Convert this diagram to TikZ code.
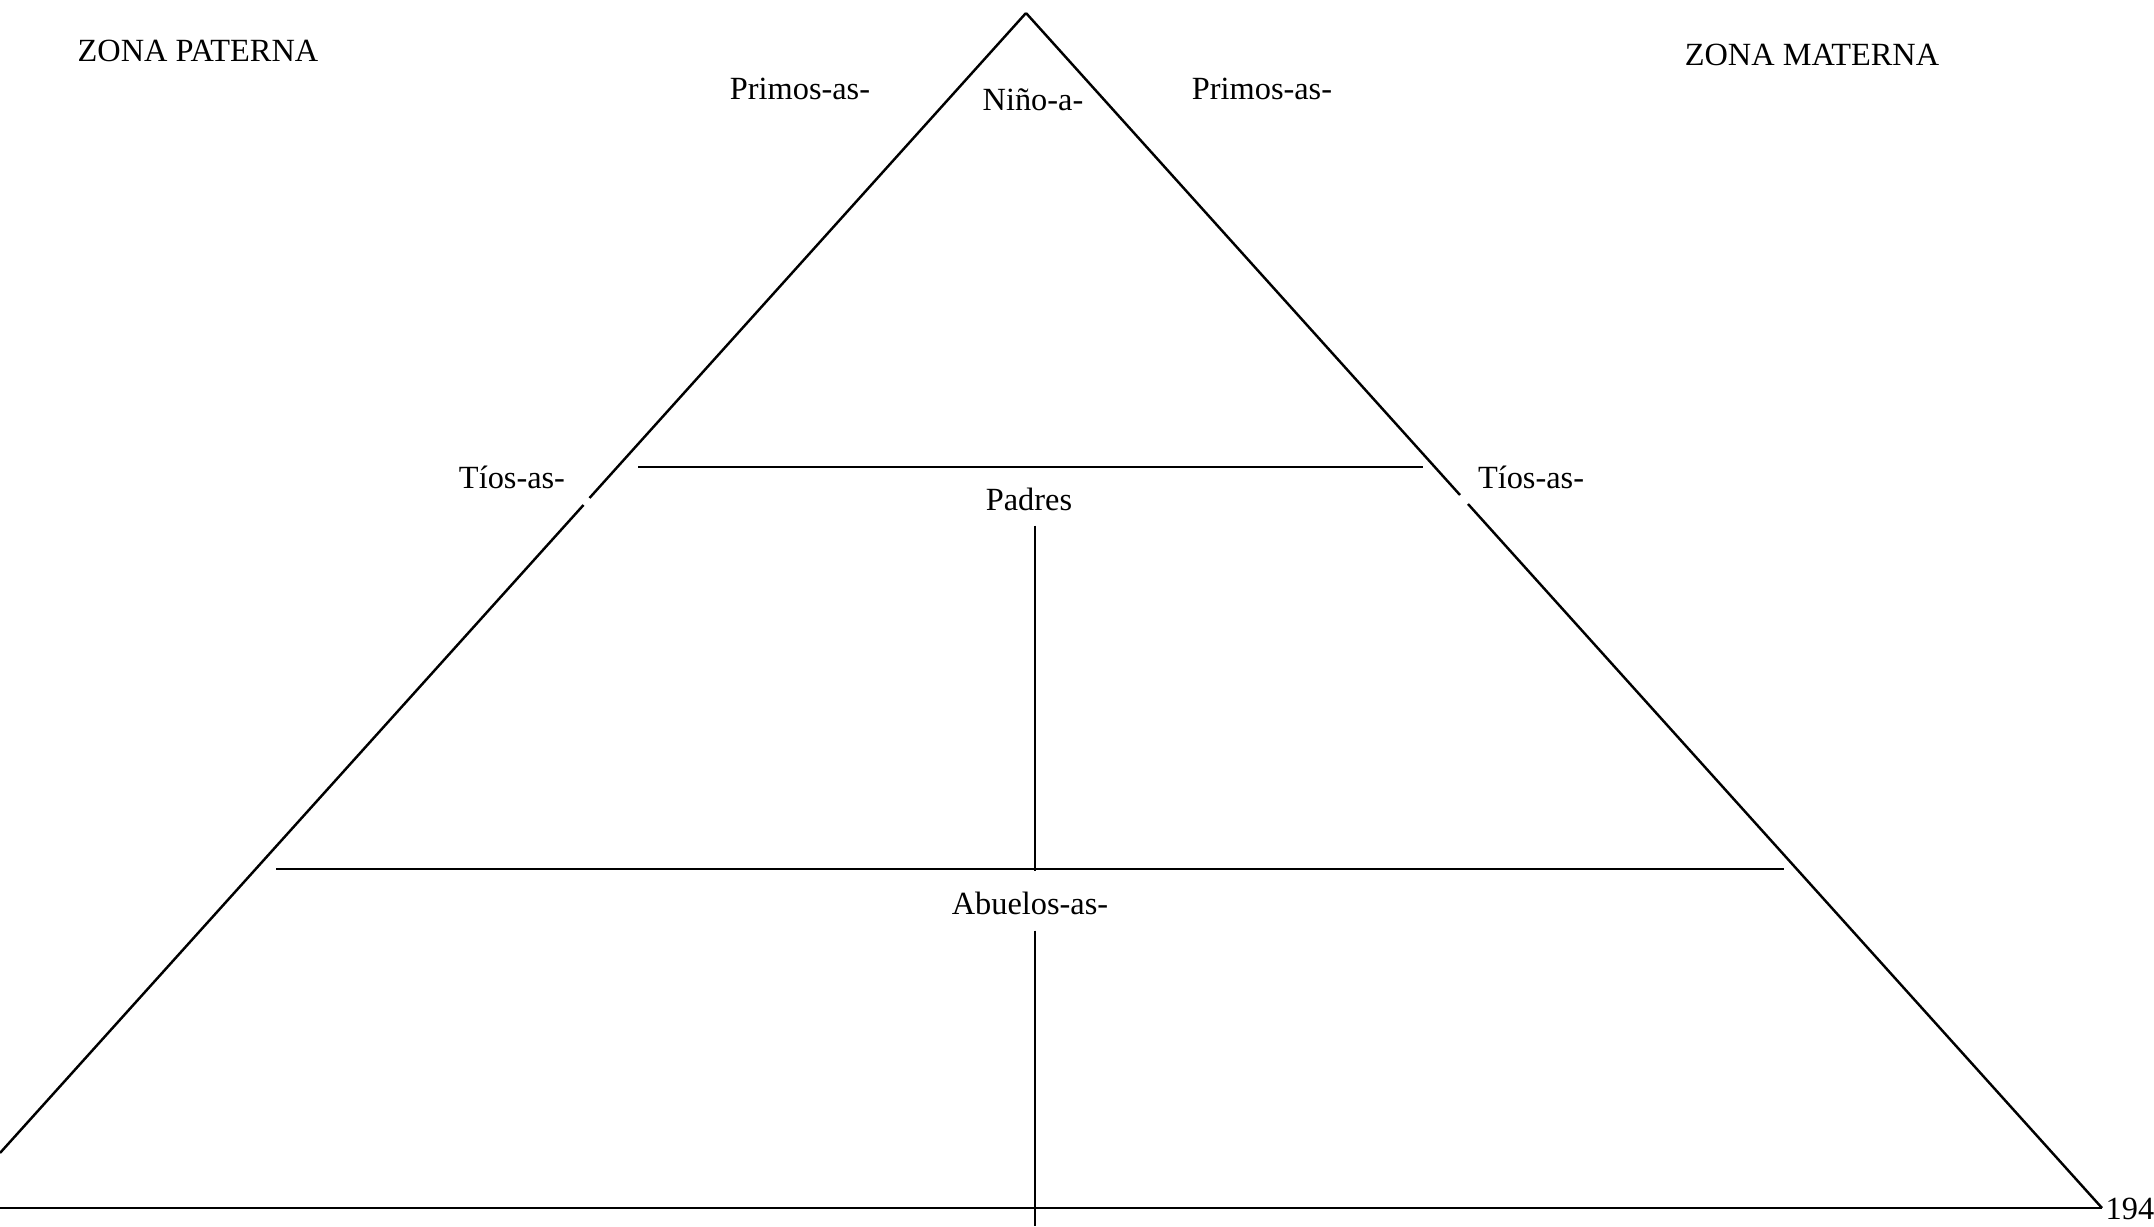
\documentclass[tikz,border=0pt]{standalone}
\usepackage{fontspec}
\setmainfont{Liberation Serif}
\usetikzlibrary{positioning}
\tikzstyle{txt} = [inner sep=0, font=\fontsize{9.2}{11}\selectfont]
\tikzstyle{line} = [line width=0.7pt]
\tikzstyle{inner} = [inner sep=0, minimum size=0]

\begin{document}
\begin{tikzpicture}[x=0.01cm, y=-0.01cm]
        \useasboundingbox (0,0) rectangle (2154,1227);
        % triangle
        \coordinate (apex) at (1026,13);
        \coordinate (leftGapTop) at (589.5,498);
        \coordinate (leftGapBottom) at (583.5,505);
        \coordinate (leftEnd) at (0,1153);
        \coordinate (rightGapTop) at (1460,495);
        \coordinate (rightGapBottom) at (1468,504);
        \coordinate (rightEnd) at (2102,1208);
        \coordinate (baseLeft) at (0,1208);

        \node [txt] (zonaPaterna) at (198,51) {ZONA PATERNA};
        \node [txt] (zonaMaterna) at (1812,55) {ZONA MATERNA};
        \node [txt] (primosPaterno) at (800,89) {Primos-as-};
        \node [txt] (nino) at (1033,100) {Niño-a-};
        \node [txt] (primosMaterno) at (1262,89) {Primos-as-};
        \node [txt] (tiosPaterno) at (512,477) {Tíos-as-};
        \node [txt] (tiosMaterno) at (1531,477) {Tíos-as-};
        \node [txt] (padres) at (1029,499) {Padres};
        \node [txt] (abuelos) at (1030,903) {Abuelos-as-};
        \node [txt, anchor=west] (pagina) at (2105,1209) {194};

        \coordinate (padresLeft) at (638,467);
        \coordinate (padresRight) at (1423,467);
        \coordinate (abuelosLeft) at (276,869);
        \coordinate (abuelosRight) at (1784,869);
        \node [inner] (padresTop) at (1035,525) {};
        \node [inner] (padresBottom) at (1035,872) {};
        \node [inner] (abuelosTop) at (1035,930) {};
        \node [inner] (abuelosBottom) at (1035,1227) {};

        \draw [line] (apex) -- (leftGapTop);
        \draw [line] (leftGapBottom) -- (leftEnd);
        \draw [line] (apex) -- (rightGapTop);
        \draw [line] (rightGapBottom) -- (rightEnd);
        \draw [line] (baseLeft) -- (rightEnd);
        \draw [line] (padresLeft) -- (padresRight);
        \draw [line] (abuelosLeft) -- (abuelosRight);
        \draw [line] (padresTop) -- (padresBottom);
        \draw [line] (abuelosTop) -- (abuelosBottom);
    \end{tikzpicture}
\end{document}
